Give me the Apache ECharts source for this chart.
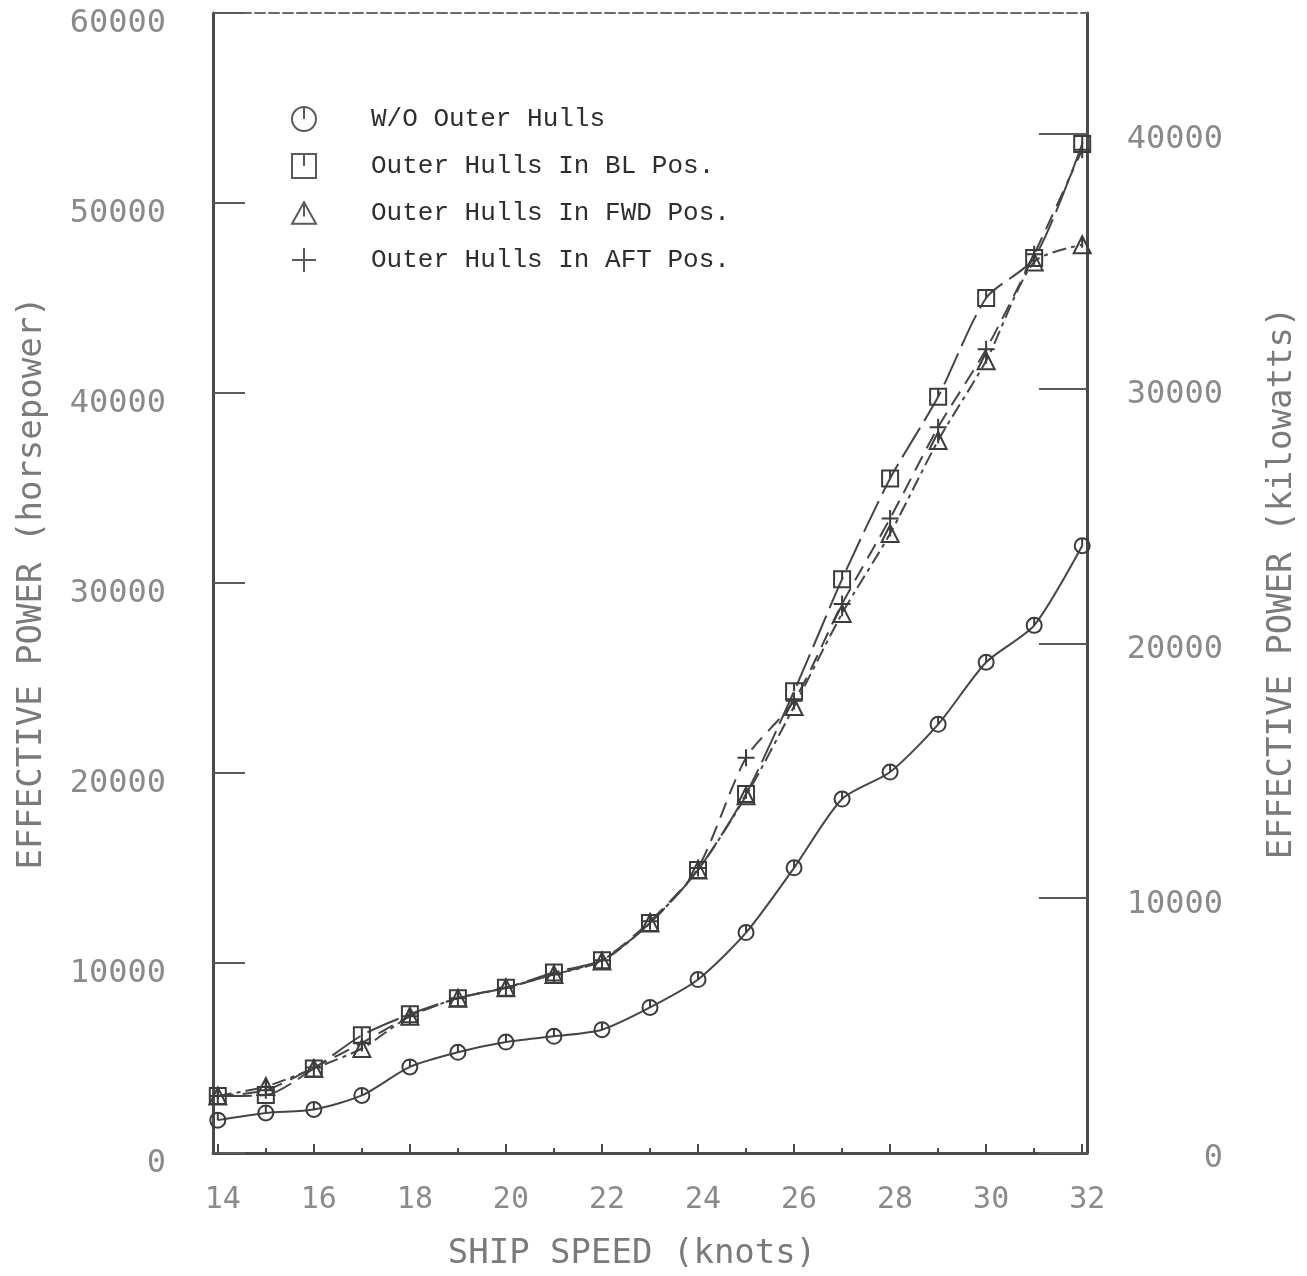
<!DOCTYPE html>
<html>
<head>
<meta charset="utf-8">
<script src="https://cdn.jsdelivr.net/npm/echarts@6/dist/echarts.min.js"></script>
<style>
html,body{margin:0;padding:0;background:#fff;}
#chart{width:1307px;height:1276px;}
</style>
</head>
<body>
<div id="chart"></div>
<script>
// Ship speed (knots)
var speeds = [14, 15, 16, 17, 18, 19, 20, 21, 22, 23, 24, 25, 26, 27, 28, 29, 30, 31, 32];
// Effective power (horsepower)
var woOuterHulls = [1730, 2110, 2290, 3030, 4530, 5300, 5840, 6140, 6490, 7660, 9130, 11600, 15010, 18630, 20050, 22560, 25830, 27770, 31960];
var blPos  = [3000, 3050, 4450, 6200, 7300, 8150, 8700, 9500, 10150, 12100, 14900, 18900, 24300, 30200, 35500, 39800, 45000, 47100, 53100];
var fwdPos = [3000, 3500, 4450, 5500, 7200, 8150, 8700, 9400, 10100, 12100, 14900, 18800, 23500, 28400, 32600, 37500, 41700, 46900, 47800];
var aftPos = [3000, 3300, 4500, 5800, 7200, 8150, 8700, 9400, 10150, 12200, 15000, 20800, 23800, 28900, 33400, 38200, 42300, 47300, 52800];
var seriesNames = ['W/O Outer Hulls', 'Outer Hulls In BL Pos.', 'Outer Hulls In FWD Pos.', 'Outer Hulls In AFT Pos.'];
// Tick labels
var xMajorTicks = [14, 16, 18, 20, 22, 24, 26, 28, 30, 32];
var xMinorTicks = [15, 17, 19, 21, 23, 25, 27, 29, 31];
var kwTicks = [0, 10000, 20000, 30000, 40000];
var HP_TO_KW = 0.7457;

var symCircle = 'path://M0,-10A10,10,0,1,1,0,10A10,10,0,1,1,0,-10ZM0,-10L0,0';
var symSquare = 'path://M-10,-10L10,-10L10,10L-10,10ZM0,-10L0,0';
var symTriangle = 'path://M0,-10L10,8L-10,8ZM0,-10L0,2';
var symPlus = 'path://M-10,0L10,0M0,-10L0,10';

function pairs(vals) {
  return speeds.map(function (s, i) { return [s, vals[i]]; });
}
function plain(v) { return String(Math.round(v)); }

var ink = '#454545';
var labelGray = '#8a8a8a';
var titleGray = '#7a7a7a';
var mono = '"DejaVu Sans Mono", "Liberation Mono", monospace';

function mk(name, vals, symbol, size, dash) {
  return {
    name: name,
    type: 'line',
    xAxisIndex: 0,
    yAxisIndex: 0,
    data: pairs(vals),
    symbol: symbol,
    symbolSize: size,
    smooth: 0.25,
    showAllSymbol: true,
    lineStyle: { color: ink, width: 2, type: dash },
    itemStyle: { color: 'rgba(0,0,0,0)', borderColor: '#3c3c3c', borderWidth: 2 },
    emphasis: { disabled: true }
  };
}

var chart = echarts.init(document.getElementById('chart'), null, { renderer: 'canvas' });
var kwMax = 60000 * HP_TO_KW;

chart.setOption({
  animation: false,
  backgroundColor: '#ffffff',
  grid: { left: 213, right: 219, top: 13, bottom: 119, containLabel: false },
  legend: {
    orient: 'vertical',
    left: 286,
    top: 101,
    itemWidth: 24,
    itemHeight: 24,
    itemGap: 21,
    selectedMode: false,
    itemStyle: { color: 'rgba(0,0,0,0)', borderColor: '#5a5a5a', borderWidth: 2 },
    formatter: function (n) { return '{s|}' + n; },
    textStyle: {
      fontFamily: '"Liberation Mono", "DejaVu Sans Mono", monospace',
      fontSize: 26,
      color: '#2e2e2e',
      lineHeight: 22,
      rich: { s: { width: 50, lineHeight: 22 } }
    },
    data: [
      { name: seriesNames[0], icon: symCircle },
      { name: seriesNames[1], icon: symSquare },
      { name: seriesNames[2], icon: symTriangle },
      { name: seriesNames[3], icon: symPlus }
    ]
  },
  xAxis: [
    {
      type: 'value',
      min: 13.9,
      max: 32.1,
      position: 'bottom',
      name: 'SHIP SPEED (knots)',
      nameLocation: 'middle',
      nameGap: 84,
      nameTextStyle: { fontFamily: mono, fontSize: 34, color: titleGray, padding: [0, 36, 0, 0] },
      axisLine: { show: true, lineStyle: { color: '#4a4a4a', width: 3 } },
      axisTick: { show: true, inside: true, length: 9, customValues: xMajorTicks, lineStyle: { color: '#4a4a4a', width: 2 } },
      axisLabel: { customValues: xMajorTicks, formatter: plain, fontFamily: mono, fontSize: 30, color: labelGray, margin: 32, padding: [0, 0, 0, 10] },
      splitLine: { show: false }
    },
    {
      type: 'value',
      min: 13.9,
      max: 32.1,
      position: 'bottom',
      axisLine: { show: false },
      axisTick: { show: true, inside: true, length: 5, customValues: xMinorTicks, lineStyle: { color: '#4a4a4a', width: 2 } },
      axisLabel: { show: false },
      splitLine: { show: false }
    },
    {
      type: 'value',
      min: 13.9,
      max: 32.1,
      position: 'top',
      axisLine: { show: true, lineStyle: { color: '#6a6a6a', width: 2, type: [10, 4] } },
      axisTick: { show: false },
      axisLabel: { show: false },
      splitLine: { show: false }
    }
  ],
  yAxis: [
    {
      type: 'value',
      min: 0,
      max: 60000,
      interval: 10000,
      position: 'left',
      name: 'EFFECTIVE POWER (horsepower)',
      nameLocation: 'middle',
      nameRotate: 90,
      nameGap: 164,
      nameTextStyle: { fontFamily: mono, fontSize: 34, color: titleGray },
      axisLine: { show: true, lineStyle: { color: '#4a4a4a', width: 3 } },
      axisTick: { show: true, inside: true, length: 32, lineStyle: { color: '#5a5a5a', width: 2 } },
      axisLabel: { formatter: plain, fontFamily: mono, fontSize: 32, color: labelGray, margin: 47, verticalAlign: 'top', lineHeight: 22 },
      splitLine: { show: false }
    },
    {
      type: 'value',
      min: 0,
      max: kwMax,
      position: 'right',
      name: 'EFFECTIVE POWER (kilowatts)',
      nameLocation: 'middle',
      nameRotate: 90,
      nameGap: 178,
      nameTextStyle: { fontFamily: mono, fontSize: 34, color: titleGray },
      axisLine: { show: true, lineStyle: { color: '#4a4a4a', width: 3 } },
      axisTick: { show: true, inside: true, length: 48, customValues: kwTicks, lineStyle: { color: '#5a5a5a', width: 2 } },
      axisLabel: { customValues: kwTicks, formatter: plain, fontFamily: mono, fontSize: 32, color: labelGray, margin: 136, align: 'right', verticalAlign: 'top', lineHeight: 12 },
      splitLine: { show: false }
    }
  ],
  series: [
    mk(seriesNames[0], woOuterHulls, symCircle, 15, 'solid'),
    mk(seriesNames[1], blPos, symSquare, 16, [34, 8]),
    mk(seriesNames[2], fwdPos, symTriangle, 17, [14, 5, 4, 5]),
    mk(seriesNames[3], aftPos, symPlus, 17, [16, 9])
  ]
});
</script>
</body>
</html>
